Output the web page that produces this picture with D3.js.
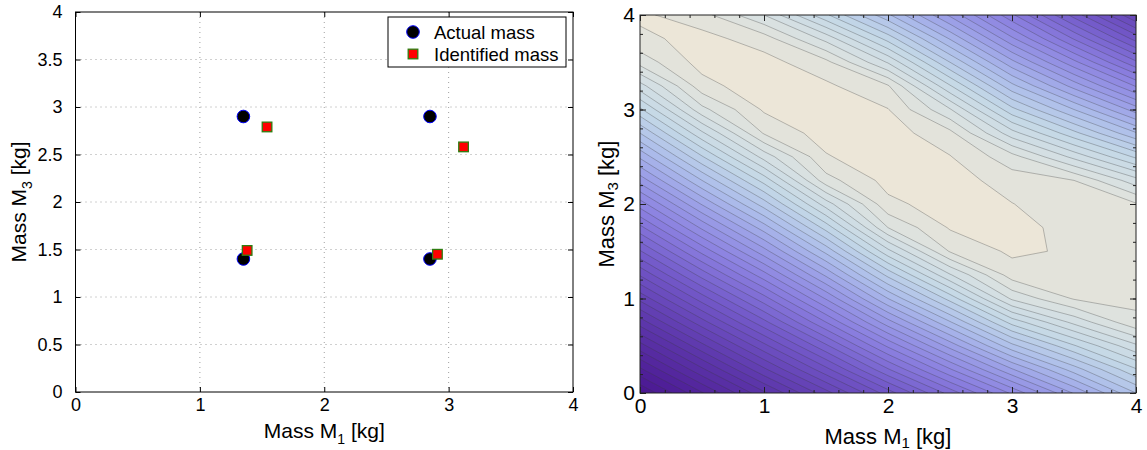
<!DOCTYPE html>
<html>
<head>
<meta charset="utf-8">
<script src="https://cdn.jsdelivr.net/npm/d3@7"></script>
<style>
  body { margin: 0; background: #fff; }
  text { font-family: "Liberation Sans", Arial, sans-serif; }
</style>
</head>
<body>
<svg id="chart" width="1147" height="450"></svg>
<script>
// ---- left panel: actual vs identified masses
var actualM1 = [1.35, 2.85, 1.35, 2.85];
var actualM3 = [2.90, 2.90, 1.40, 1.40];
var identM1 = [1.54, 3.12, 1.38, 2.91];
var identM3 = [2.79, 2.58, 1.49, 1.45];
var legendLabels = ["Actual mass", "Identified mass"];
var leftXTicks = [0, 1, 2, 3, 4];
var leftYTicks = [0, 0.5, 1, 1.5, 2, 2.5, 3, 3.5, 4];

// ---- right panel: objective surface, contour level read at grid nodes
var m1Grid = [0, 0.5, 1, 1.5, 2, 2.5, 3, 3.5, 4];
var m3Grid = [0, 0.25, 0.5, 0.75, 1, 1.25, 1.5, 1.75, 2, 2.25, 2.5, 2.75, 3, 3.25, 3.5, 3.75, 4];
// one row per m3 value (bottom to top), one entry per m1 value
var levelRows = [
  [42.0, 38.1, 34.2, 30.4, 26.5, 22.6, 18.8, 14.9, 11.0],
  [39.2, 35.2, 31.2, 27.3, 23.1, 19.1, 15.1, 11.5, 8.1],
  [36.4, 32.3, 28.3, 24.2, 19.8, 15.6, 11.3, 8.1, 5.2],
  [33.5, 29.4, 25.3, 21.0, 16.4, 12.1, 7.6, 4.7, 2.2],
  [30.7, 26.5, 22.4, 17.9, 13.0, 8.6, 3.8, 1.9, 1.8],
  [27.9, 23.6, 19.4, 14.8, 9.7, 5.1, 1.5, 1.5, 1.6],
  [25.1, 20.7, 16.4, 11.7, 6.3, 1.9, 0.8, 1.15, 1.5],
  [22.3, 17.8, 13.5, 8.6, 3.0, 0.9, 0.6, 1.4, 1.7],
  [19.5, 14.9, 10.5, 5.5, 1.25, 0.5, 0.97, 1.7, 1.9],
  [16.6, 12.0, 7.6, 2.4, 0.64, 0.5, 1.5, 2.0, 4.6],
  [13.8, 9.1, 4.6, 1.1, 0.2, 0.95, 2.6, 5.3, 8.2],
  [11.0, 6.2, 1.9, 0.5, 0.5, 1.7, 5.6, 8.7, 11.9],
  [8.2, 3.3, 0.86, 0.25, 0.96, 3.9, 8.7, 12.0, 15.5],
  [5.4, 1.4, 0.27, 0.8, 1.9, 6.9, 11.7, 15.4, 19.1],
  [2.6, 0.58, 0.62, 1.7, 5.1, 10.0, 14.7, 18.7, 22.8],
  [1.23, 0.65, 1.5, 4.35, 8.4, 13.1, 17.8, 22.1, 26.4],
  [0.8, 1.6, 4.0, 7.8, 11.8, 16.2, 20.8, 25.4, 30.0]
];
var levelStops = [0, 1, 4, 8, 12, 16, 20, 26, 33, 42];
var levelColors = ["#f1e8d6", "#e6e3da", "#d6e0e2", "#c4d8e6", "#adbeea",
                   "#9a9ce6", "#8b80e0", "#7258c8", "#5d38ac", "#4a1690"];
var rightTicks = [0, 1, 2, 3, 4];

var svg = d3.select("#chart");

// ================= left panel =================
var L = { left: 75.5, right: 573, top: 12, bottom: 392 };
var xL = d3.scaleLinear().domain([0, 4]).range([L.left, L.right]);
var yL = d3.scaleLinear().domain([0, 4]).range([L.bottom, L.top]);
var gl = svg.append("g");

// dotted grid
gl.selectAll(".vg").data(leftXTicks.slice(1, -1)).enter().append("line")
  .attr("x1", d => xL(d)).attr("x2", d => xL(d))
  .attr("y1", L.top).attr("y2", L.bottom)
  .attr("stroke", "#a0a0a0").attr("stroke-dasharray", "1,4");
gl.selectAll(".hg").data(leftYTicks.slice(1, -1)).enter().append("line")
  .attr("y1", d => yL(d)).attr("y2", d => yL(d))
  .attr("x1", L.left).attr("x2", L.right)
  .attr("stroke", "#a0a0a0").attr("stroke-dasharray", "1,4");

function styleAxis(g, size) {
  g.select(".domain").remove();
  g.selectAll("line").attr("stroke", "#000");
  g.selectAll("text").attr("font-size", size).attr("fill", "#000")
    .attr("font-family", "Liberation Sans, Arial, sans-serif");
}

gl.append("g").attr("transform", "translate(0," + L.bottom + ")")
  .call(d3.axisBottom(xL).tickValues(leftXTicks).tickSizeInner(-5).tickSizeOuter(0).tickPadding(6).tickFormat(d3.format("")))
  .call(g => styleAxis(g, 18));
gl.append("g").attr("transform", "translate(0," + L.top + ")")
  .call(d3.axisTop(xL).tickValues(leftXTicks).tickSizeInner(-5).tickSizeOuter(0).tickFormat(""))
  .call(g => styleAxis(g, 18));
gl.append("g").attr("transform", "translate(" + L.left + ",0)")
  .call(d3.axisLeft(yL).tickValues(leftYTicks).tickSizeInner(-5).tickSizeOuter(0).tickPadding(13).tickFormat(d3.format("")))
  .call(g => styleAxis(g, 18));
gl.append("g").attr("transform", "translate(" + L.right + ",0)")
  .call(d3.axisRight(yL).tickValues(leftYTicks).tickSizeInner(-5).tickSizeOuter(0).tickFormat(""))
  .call(g => styleAxis(g, 18));

gl.append("rect").attr("x", L.left).attr("y", L.top)
  .attr("width", L.right - L.left).attr("height", L.bottom - L.top)
  .attr("fill", "none").attr("stroke", "#000").attr("stroke-width", 1);

var actual = actualM1.map((d, i) => [d, actualM3[i]]);
var ident = identM1.map((d, i) => [d, identM3[i]]);

gl.selectAll(".act").data(actual).enter().append("circle")
  .attr("cx", d => xL(d[0])).attr("cy", d => yL(d[1])).attr("r", 6.3)
  .attr("fill", "#000").attr("stroke", "#0000ff").attr("stroke-width", 1);
gl.selectAll(".idn").data(ident).enter().append("rect")
  .attr("x", d => xL(d[0]) - 4.8).attr("y", d => yL(d[1]) - 4.8)
  .attr("width", 9.6).attr("height", 9.6)
  .attr("fill", "#ff0000").attr("stroke", "#2e7d10").attr("stroke-width", 1.3);

// legend
var lg = gl.append("g").attr("transform", "translate(388,17)");
lg.append("rect").attr("width", 178).attr("height", 50)
  .attr("fill", "#fff").attr("stroke", "#000");
lg.append("circle").attr("cx", 25).attr("cy", 15).attr("r", 6.3)
  .attr("fill", "#000").attr("stroke", "#0000ff");
lg.append("rect").attr("x", 20.2).attr("y", 32.2).attr("width", 9.6).attr("height", 9.6)
  .attr("fill", "#ff0000").attr("stroke", "#2e7d10").attr("stroke-width", 1.3);
lg.selectAll(".lt").data(legendLabels).enter().append("text")
  .attr("x", 46).attr("y", (d, i) => 21.5 + i * 22)
  .attr("font-size", 18.5).text(d => d);

// axis labels (left)
var xlab = gl.append("text").attr("x", xL(2)).attr("y", 438)
  .attr("text-anchor", "middle").attr("font-size", 21);
xlab.append("tspan").text("Mass M");
xlab.append("tspan").attr("font-size", 14).attr("dy", 6).text("1");
xlab.append("tspan").attr("dy", -6).text(" [kg]");

var ylab = gl.append("text").attr("transform", "translate(26," + yL(2) + ") rotate(-90)")
  .attr("text-anchor", "middle").attr("font-size", 21);
ylab.append("tspan").text("Mass M");
ylab.append("tspan").attr("font-size", 14).attr("dy", 6).text("3");
ylab.append("tspan").attr("dy", -6).text(" [kg]");

// ================= right panel =================
var R = { left: 640, right: 1136, top: 15, bottom: 393 };
var xR = d3.scaleLinear().domain([0, 4]).range([R.left, R.right]);
var yR = d3.scaleLinear().domain([0, 4]).range([R.bottom, R.top]);
var gr = svg.append("g");

gr.append("clipPath").attr("id", "clipR").append("rect")
  .attr("x", R.left).attr("y", R.top)
  .attr("width", R.right - R.left).attr("height", R.bottom - R.top);

var nx = m1Grid.length, ny = m3Grid.length;
var values = [];
levelRows.forEach(row => row.forEach(v => values.push(v)));
var dm1 = m1Grid[1] - m1Grid[0], dm3 = m3Grid[1] - m3Grid[0];

// grid coordinates (samples at cell centres) -> pixels
var proj = d3.geoTransform({
  point: function (gx, gy) {
    this.stream.point(xR(m1Grid[0] + (gx - 0.5) * dm1), yR(m3Grid[0] + (gy - 0.5) * dm3));
  }
});
var path = d3.geoPath(proj);
var maxLevel = Math.ceil(d3.max(values));
var thresholds = d3.range(0, maxLevel + 1);
var bands = d3.contours().size([nx, ny]).thresholds(thresholds)(values);
var color = d3.scaleLinear().domain(levelStops).range(levelColors).clamp(true);

var cg = gr.append("g").attr("clip-path", "url(#clipR)");
cg.selectAll(".band").data(bands).enter().append("path")
  .attr("d", path)
  .attr("fill", d => color(d.value + 0.5))
  .attr("stroke", "none");
cg.selectAll(".iso").data(bands.filter(d => d.value >= 1)).enter().append("path")
  .attr("d", path)
  .attr("fill", "none")
  .attr("stroke", "rgba(60,60,60,0.45)")
  .attr("stroke-width", 0.7);

// frame ticks (major + minor, inward, all four sides)
var minor = d3.range(0, 4.0001, 0.2);
function frameAxis(axisFn, scale, tr, labels) {
  var a = gr.append("g").attr("transform", tr);
  a.call(axisFn(scale).tickValues(minor).tickSizeInner(-3).tickSizeOuter(0).tickFormat(""));
  a.select(".domain").remove();
  a.selectAll("line").attr("stroke", "#222");
  var b = gr.append("g").attr("transform", tr);
  b.call(axisFn(scale).tickValues(rightTicks).tickSizeInner(-6).tickSizeOuter(0).tickPadding(5)
    .tickFormat(labels ? d3.format("") : ""));
  b.select(".domain").remove();
  b.selectAll("line").attr("stroke", "#222");
  b.selectAll("text").attr("font-size", 21).attr("fill", "#000")
    .attr("font-family", "Liberation Sans, Arial, sans-serif");
}
frameAxis(d3.axisBottom, xR, "translate(0," + R.bottom + ")", true);
frameAxis(d3.axisTop, xR, "translate(0," + R.top + ")", false);
frameAxis(d3.axisLeft, yR, "translate(" + R.left + ",0)", true);
frameAxis(d3.axisRight, yR, "translate(" + R.right + ",0)", false);

gr.append("rect").attr("x", R.left).attr("y", R.top)
  .attr("width", R.right - R.left).attr("height", R.bottom - R.top)
  .attr("fill", "none").attr("stroke", "#222").attr("stroke-width", 1);

var xlab2 = gr.append("text").attr("x", xR(2)).attr("y", 444)
  .attr("text-anchor", "middle").attr("font-size", 22);
xlab2.append("tspan").text("Mass M");
xlab2.append("tspan").attr("font-size", 15).attr("dy", 4).text("1");
xlab2.append("tspan").attr("dy", -4).text(" [kg]");

var ylab2 = gr.append("text").attr("transform", "translate(614," + yR(2) + ") rotate(-90)")
  .attr("text-anchor", "middle").attr("font-size", 22);
ylab2.append("tspan").text("Mass M");
ylab2.append("tspan").attr("font-size", 15).attr("dy", 4).text("3");
ylab2.append("tspan").attr("dy", -4).text(" [kg]");
</script>
</body>
</html>
